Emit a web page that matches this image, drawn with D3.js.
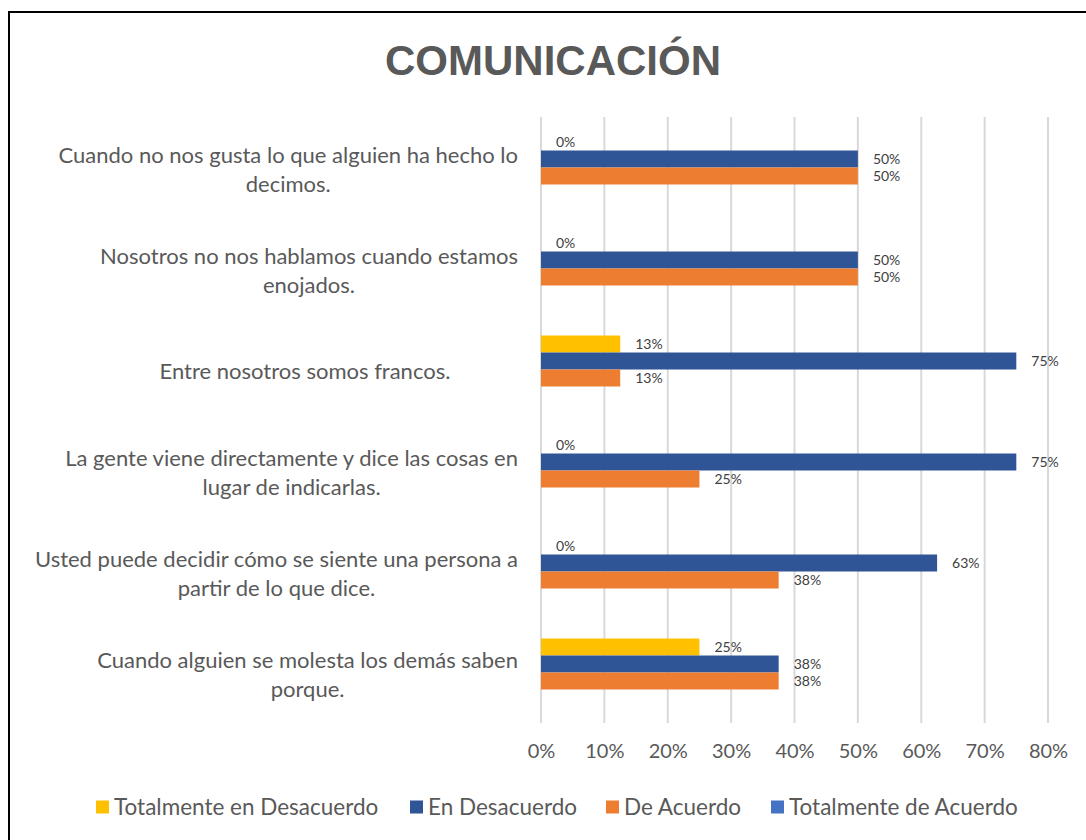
<!DOCTYPE html>
<html>
<head>
<meta charset="utf-8">
<script src="https://cdn.jsdelivr.net/npm/d3@7"></script>
<style>
  body { margin: 0; background: #fff; }
  svg { display: block; }
</style>
</head>
<body>
<svg id="chart" width="1086" height="840"></svg>
<script>
const categorias = [
    "Cuando no nos gusta lo que alguien ha hecho lo decimos.",
    "Nosotros no nos hablamos cuando estamos enojados.",
    "Entre nosotros somos francos.",
    "La gente viene directamente y dice las cosas en lugar de indicarlas.",
    "Usted puede decidir cómo se siente una persona a partir de lo que dice.",
    "Cuando alguien se molesta los demás saben porque."
];
const series = ["Totalmente en Desacuerdo", "En Desacuerdo", "De Acuerdo", "Totalmente de Acuerdo"];
const colores = ["#FFC000", "#2F5597", "#ED7D31", "#4472C4"];

const totalDesacuerdo = [0, 0, 0.125, 0, 0, 0.25];
const enDesacuerdo = [0.5, 0.5, 0.75, 0.75, 0.625, 0.375];
const deAcuerdo = [0.5, 0.5, 0.125, 0.25, 0.375, 0.375];
const totalAcuerdo = [null, null, null, null, null, null];
const valores = [totalDesacuerdo, enDesacuerdo, deAcuerdo, totalAcuerdo];

const ticks = [0, 0.1, 0.2, 0.3, 0.4, 0.5, 0.6, 0.7, 0.8];

const svg = d3.select("#chart");
const gris = "#595959";
const fuente = "Lato, 'Open Sans', sans-serif";

// cadre
svg.append("path")
    .attr("d", "M9,840 V12 H1086")
    .attr("fill", "none")
    .attr("stroke", "#000")
    .attr("stroke-width", 2);

svg.append("text")
    .attr("x", 553)
    .attr("y", 75)
    .attr("text-anchor", "middle")
    .style("font-family", "'Liberation Sans', Arial, sans-serif")
    .style("font-weight", "bold")
    .style("font-size", "42px")
    .style("fill", gris)
    .text("COMUNICACIÓN");

const x = d3.scaleLinear().domain([0, 0.8]).range([541, 1048]);
const y = d3.scaleBand().domain(d3.range(categorias.length)).range([117, 723])
    .paddingInner(0.327).paddingOuter(0.1635);
const ySerie = d3.scaleBand().domain(d3.range(series.length)).range([0, y.bandwidth()]);

// grille
svg.append("g").selectAll("line")
    .data(ticks)
    .join("line")
    .attr("x1", d => x(d)).attr("x2", d => x(d))
    .attr("y1", 117).attr("y2", 723)
    .attr("stroke", "#d9d9d9")
    .attr("stroke-width", 2);

const axe = svg.append("g")
    .attr("transform", "translate(0,723)")
    .call(d3.axisBottom(x).tickValues(ticks).tickFormat(d3.format(".0%")).tickSize(0).tickPadding(21));
axe.select(".domain").remove();
axe.selectAll("text")
    .style("font-family", fuente)
    .style("font-size", "20px")
    .style("fill", gris);

// barres
const donnees = [];
valores.forEach((vals, s) => {
    vals.forEach((v, c) => {
        if (v !== null) donnees.push({ c: c, s: s, v: v });
    });
});

const groupe = svg.append("g");
groupe.selectAll("rect")
    .data(donnees)
    .join("rect")
    .attr("x", x(0))
    .attr("y", d => y(d.c) + ySerie(d.s))
    .attr("width", d => x(d.v) - x(0))
    .attr("height", ySerie.bandwidth())
    .attr("fill", d => colores[d.s]);

groupe.selectAll("text")
    .data(donnees)
    .join("text")
    .attr("x", d => x(d.v) + 15)
    .attr("y", d => y(d.c) + ySerie(d.s) + ySerie.bandwidth() / 2)
    .attr("dy", "0.35em")
    .style("font-family", fuente)
    .style("font-size", "14px")
    .style("fill", "#404040")
    .text(d => d3.format(".0%")(d.v));

// etiquettes des categories
function couper(texte, largeur, node) {
    const mots = texte.split(" ");
    const lignes = [];
    let ligne = [];
    mots.forEach(m => {
        ligne.push(m);
        node.text(ligne.join(" "));
        if (node.node().getComputedTextLength() > largeur && ligne.length > 1) {
            ligne.pop();
            lignes.push(ligne.join(" "));
            ligne = [m];
        }
    });
    lignes.push(ligne.join(" "));
    return lignes;
}

const etiquettes = svg.append("g");
categorias.forEach((cat, i) => {
    const t = etiquettes.append("text")
        .attr("text-anchor", "middle")
        .style("font-family", fuente)
        .style("font-size", "22px")
        .style("fill", gris);
    const lignes = couper(cat, 500, t);
    // bloc aligne a droite, lignes centrees dans le bloc
    let maxL = 0;
    lignes.forEach(l => {
        t.text(l);
        maxL = Math.max(maxL, t.node().getComputedTextLength());
    });
    t.text(null);
    const cx = lignes.length > 1 ? 518 - maxL / 2 : 305;
    const centre = y(i) + y.bandwidth() / 2 + 2;
    const h = 29;
    lignes.forEach((l, k) => {
        t.append("tspan")
            .attr("x", cx)
            .attr("y", centre + (k - (lignes.length - 1) / 2) * h)
            .attr("dy", "0.35em")
            .text(l);
    });
});

// legende
const legende = svg.append("g").attr("transform", "translate(0,807)");
const posLegende = [96, 410, 606, 771];
series.forEach((s, i) => {
    const g = legende.append("g").attr("transform", `translate(${posLegende[i]},0)`);
    g.append("rect").attr("x", 0).attr("y", -6.5).attr("width", 13).attr("height", 13).attr("fill", colores[i]);
    g.append("text")
        .attr("x", 18)
        .attr("dy", "0.35em")
        .style("font-family", fuente)
        .style("font-size", "22.5px")
        .style("fill", gris)
        .text(s);
});
</script>
</body>
</html>
